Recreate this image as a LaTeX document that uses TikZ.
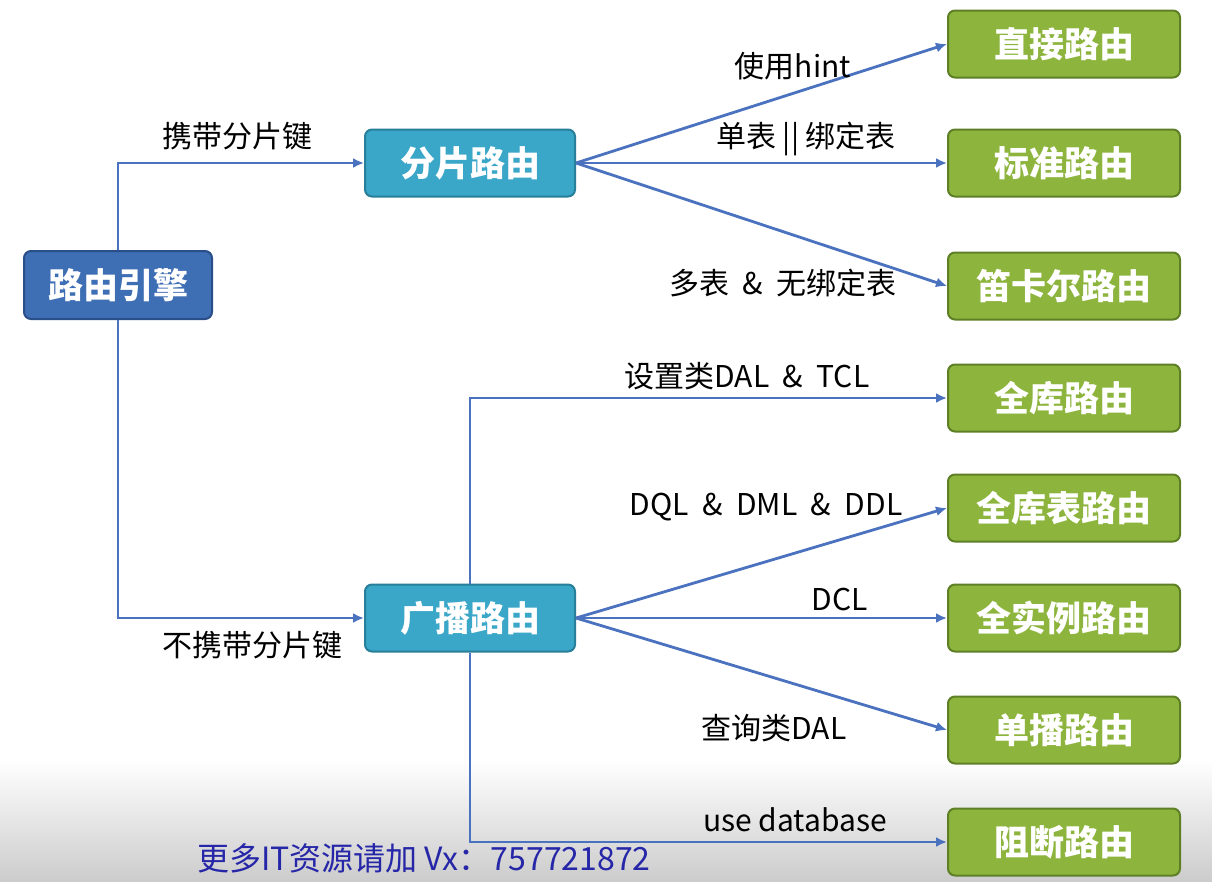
\documentclass[tikz,border=0pt]{standalone}
\usepackage{fontspec}
\setmainfont{Noto Sans CJK SC}
\usetikzlibrary{arrows.meta}
\definecolor{rootc}{HTML}{3E6EB4}
\definecolor{rootd}{HTML}{2A4E88}
\definecolor{midc}{HTML}{3AA6C8}
\definecolor{midd}{HTML}{287F99}
\definecolor{leafc}{HTML}{8DB43D}
\definecolor{leafd}{HTML}{5F7F26}
\definecolor{linec}{HTML}{4A72BE}
\definecolor{wmc}{HTML}{2626A8}
\begin{document}
\begin{tikzpicture}[x=1pt,y=-1pt,
  box/.style={rounded corners=7pt, line width=2pt, inner sep=0pt, text=white,
    font=\fontsize{35}{35}\selectfont\bfseries},
  rootbox/.style={box, fill=rootc, draw=rootd, minimum width=188pt, minimum height=68pt},
  midbox/.style={box, fill=midc, draw=midd, minimum width=210pt, minimum height=67pt},
  leafbox/.style={box, fill=leafc, draw=leafd, minimum width=232pt, minimum height=67pt},
  conn/.style={draw=linec, line width=2.8pt, -{Latex[length=11pt,width=10pt]}},
  lbl/.style={font=\fontsize{30}{30}\selectfont, text=black, inner sep=0pt}
]
\useasboundingbox (0,0) rectangle (1212,881);
\fill[white] (0,0) rectangle (1212,881);
\shade[top color=white, bottom color=black!20, draw=none] (0,760) rectangle (1212,881);

% nodes
\node[rootbox] (root) at (118,285) {路由引擎};
\node[midbox] (shard) at (470,163) {分片路由};
\node[midbox] (bcast) at (470,618) {广播路由};
\node[leafbox] (direct) at (1064,44) {直接路由};
\node[leafbox] (standard) at (1064,163) {标准路由};
\node[leafbox] (cart) at (1064,286) {笛卡尔路由};
\node[leafbox] (alldb) at (1064,398) {全库路由};
\node[leafbox] (alltbl) at (1064,508) {全库表路由};
\node[leafbox] (allinst) at (1064,618) {全实例路由};
\node[leafbox] (unicast) at (1064,730) {单播路由};
\node[leafbox] (block) at (1064,842) {阻断路由};

% connectors
\draw[conn] (root.north) |- (shard.west);
\draw[conn] (root.south) |- (bcast.west);
\draw[conn] (shard.east) -- (direct.west);
\draw[conn] (shard.east) -- (standard.west);
\draw[conn] (shard.east) -- (cart.west);
\draw[conn] (bcast.north) |- (alldb.west);
\draw[conn] (bcast.east) -- (alltbl.west);
\draw[conn] (bcast.east) -- (allinst.west);
\draw[conn] (bcast.east) -- (unicast.west);
\draw[conn] (bcast.south) |- (block.west);

% labels
\node[lbl] (l1) at (237,136) {携带分片键};
\node[lbl] (l2) at (252,645) {不携带分片键};
\node[lbl] (l3) at (793,66) {使用hint};
\node[lbl] (l4) at (806,139) {单表 || 绑定表};
\node[lbl] (l5) at (783,283) {多表 \ \& \ 无绑定表};
\node[lbl] (l6) at (747,376) {设置类DAL \ \& \ TCL};
\node[lbl] (l7) at (766,507) {DQL \ \& \ DML \ \& \ DDL};
\node[lbl] (l8) at (840,599) {DCL};
\node[lbl] (l9) at (774,728) {查询类DAL};
\node[lbl] (l10) at (795,820) {use database};

\node[anchor=west, inner sep=0pt, text=wmc, font=\fontsize{32}{32}\selectfont] (wm) at (197,858) {更多IT资源请加 Vx：757721872};
\end{tikzpicture}
\end{document}
